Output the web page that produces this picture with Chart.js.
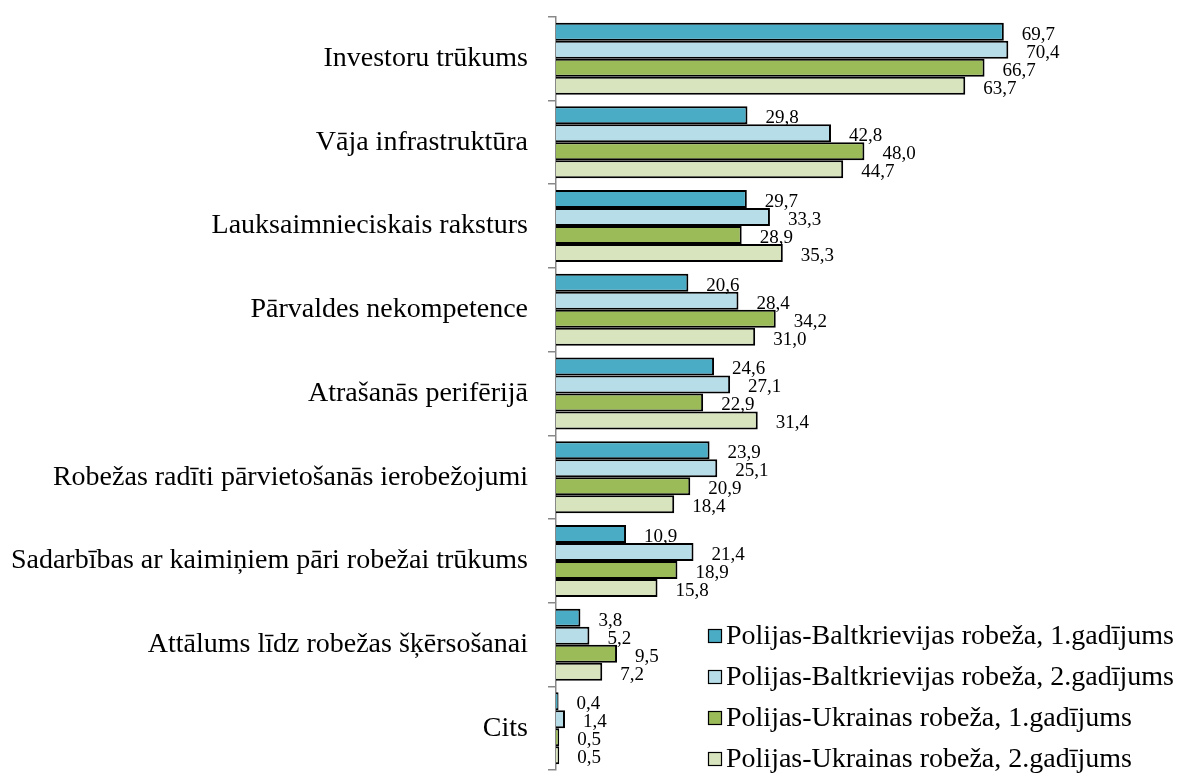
<!DOCTYPE html>
<html>
<head>
  <script src="https://cdn.jsdelivr.net/npm/chart.js"></script>
  <style>
    body { margin: 0; background: #fff; overflow: hidden; }
    #clip { width: 1177px; height: 774px; overflow: hidden; }
    #wrap { width: 1177px; height: 827px; margin-top: -20px; }
  </style>
</head>
<body>
  <div id="clip"><div id="wrap"><canvas id="myChart"></canvas></div></div>
  <script>
    const categories = [
      'Investoru trūkums',
      'Vāja infrastruktūra',
      'Lauksaimnieciskais raksturs',
      'Pārvaldes nekompetence',
      'Atrašanās perifērijā',
      'Robežas radīti pārvietošanās ierobežojumi',
      'Sadarbības ar kaimiņiem pāri robežai trūkums',
      'Attālums līdz robežas šķērsošanai',
      'Cits'
    ];
    const seriesNames = [
      'Polijas-Baltkrievijas robeža, 1.gadījums',
      'Polijas-Baltkrievijas robeža, 2.gadījums',
      'Polijas-Ukrainas robeža, 1.gadījums',
      'Polijas-Ukrainas robeža, 2.gadījums'
    ];
    const pbr1 = [69.7, 29.8, 29.7, 20.6, 24.6, 23.9, 10.9, 3.8, 0.4];
    const pbr2 = [70.4, 42.8, 33.3, 28.4, 27.1, 25.1, 21.4, 5.2, 1.4];
    const pur1 = [66.7, 48.0, 28.9, 34.2, 22.9, 20.9, 18.9, 9.5, 0.5];
    const pur2 = [63.7, 44.7, 35.3, 31.0, 31.4, 18.4, 15.8, 7.2, 0.5];
    const colors = ['#4BACC6', '#B7DEE8', '#9BBB59', '#D7E4BD'];

    const FONT = '"Liberation Serif", "Times New Roman", serif';
    const SHIFT = 20; // canvas is pushed up by this much

    // value labels right of each bar, decimal comma
    const valueLabels = {
      id: 'valueLabels',
      afterDatasetsDraw(chart) {
        const ctx = chart.ctx;
        ctx.save();
        ctx.font = '19px ' + FONT;
        ctx.fillStyle = '#000';
        ctx.textBaseline = 'middle';
        ctx.textAlign = 'left';
        chart.data.datasets.forEach((ds, i) => {
          chart.getDatasetMeta(i).data.forEach((bar, j) => {
            const txt = ds.data[j].toFixed(1).replace('.', ',');
            ctx.fillText(txt, bar.x + 18, bar.y + 3);
          });
        });
        ctx.restore();
      }
    };

    // legend in the lower right, inside the plot
    const boxLegend = {
      id: 'boxLegend',
      afterDraw(chart) {
        const ctx = chart.ctx;
        ctx.save();
        ctx.font = '28px ' + FONT;
        ctx.textBaseline = 'middle';
        chart.data.datasets.forEach((ds, i) => {
          const y = SHIFT + 636 + i * 41;
          ctx.fillStyle = ds.backgroundColor;
          ctx.fillRect(708, y - 7, 14, 14);
          ctx.strokeStyle = '#000';
          ctx.lineWidth = 1.2;
          ctx.strokeRect(708.5, y - 6.5, 13, 13);
          ctx.fillStyle = '#000';
          ctx.fillText(ds.label, 726, y + 1);
        });
        ctx.restore();
      }
    };

    const seriesData = [pbr1, pbr2, pur1, pur2];
    new Chart(document.getElementById('myChart'), {
      type: 'bar',
      data: {
        labels: categories,
        datasets: seriesData.map((d, i) => ({
          label: seriesNames[i],
          data: d,
          backgroundColor: colors[i],
          borderColor: '#000',
          borderWidth: 2,
          borderSkipped: 'left',
          categoryPercentage: 0.86,
          barPercentage: 1.0
        }))
      },
      options: {
        indexAxis: 'y',
        responsive: true,
        maintainAspectRatio: false,
        animation: false,
        layout: { padding: { top: 0, bottom: 0, right: 107, left: 0 } },
        plugins: {
          legend: { display: false },
          tooltip: { enabled: false }
        },
        scales: {
          x: {
            display: false,
            min: 0,
            max: 80
          },
          y: {
            afterFit(scale) { scale.width = 556; },
            grid: {
              drawOnChartArea: false,
              tickLength: 8,
              color: '#888',
              lineWidth: 1.5
            },
            border: { color: '#888', width: 1.5 },
            ticks: {
              color: '#000',
              padding: 20,
              font: { family: FONT, size: 28 }
            }
          }
        }
      },
      plugins: [valueLabels, boxLegend]
    });
  </script>
</body>
</html>
